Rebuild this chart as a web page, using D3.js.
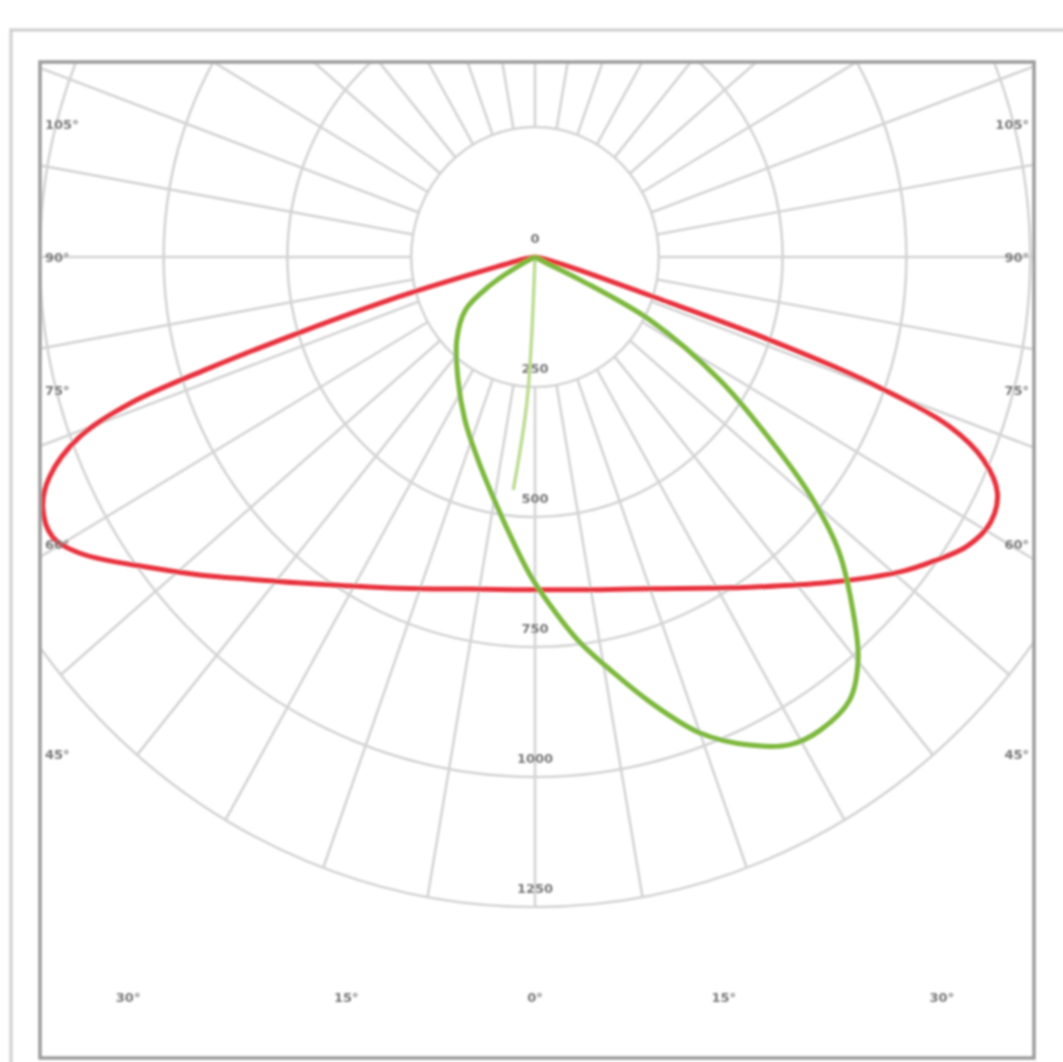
<!DOCTYPE html>
<html>
<head>
<meta charset="utf-8">
<script src="https://cdn.jsdelivr.net/npm/d3@7"></script>
<style>
  html, body { margin: 0; padding: 0; background: #ffffff; }
  svg { display: block; }
  text { font-family: "DejaVu Sans", sans-serif; }
</style>
</head>
<body>
<svg id="chart" width="1063" height="1062"></svg>
<script>
// ---- data ----
const ringValues = [250, 500, 750, 1000, 1250];
const ringLabels = ["0", "250", "500", "750", "1000", "1250"];
const ringLabelValues = [0, 250, 500, 750, 1000, 1250];
const spokeAngles = d3.range(-180, 180, 10);
const sideLabelAngles = [105, 90, 75, 60, 45];
const sideLabels = ["105°", "90°", "75°", "60°", "45°"];
const bottomLabelAngles = [-30, -15, 0, 15, 30];
const bottomLabels = ["30°", "15°", "0°", "15°", "30°"];

// red curve (C0-C180 plane), gamma in degrees, intensity
const redAngles = [-90, -80, -76.5, -74.5, -73, -72, -71, -69.4, -66.7, -64.2, -61.1, -58.2, -52.5, -47.9, -42.9, -37.1, -23.2, -11.6, 0,
                   11.6, 20, 34.3, 43.6, 50.6, 54, 57.5, 61, 64.1, 66.7, 68.7, 70.3, 71.4, 72.1, 75, 80, 90];
const redValues = [0, 20, 75, 280, 497, 690, 865, 982, 1067, 1104, 1113, 1081, 981, 912, 846, 786, 693, 652, 640,
                   653, 679, 769, 864, 954, 995, 1035, 1052, 1038, 986, 900, 719, 501, 287, 73, 15, 0];

// green curve (C90-C270 plane)
const greenAngles = [-90, -63, -59, -54, -44.6, -33.3, -24.3, -16.4, -10, -4.8, -0.9, 2.6, 6.7, 11.1, 15.2, 20, 24.8, 28.8, 32.3,
                     36.7, 40.1, 43.4, 47.4, 50.5, 53.5, 57.6, 62.4, 64.2, 63, 60];
const greenValues = [0, 34, 106, 174, 225, 283, 344, 407, 474, 546, 612, 670, 742, 813, 887, 974, 1034, 1070, 1077,
                     1063, 1013, 934, 832, 720, 591, 443, 262, 101, 22, 0];

// faint green line
const faintAngles = [0, -3.3, -5.6];
const faintValues = [0, 275, 450];

// ---- layout ----
const W = 1063, H = 1062;
const cx = 535, cy = 257;
const frame = { x: 40, y: 62, w: 994, h: 996 };
const rMax = 1250;
const xr = d3.scaleLinear().domain([0, rMax]).range([0, 619]);
const yr = d3.scaleLinear().domain([0, rMax]).range([0, 650]);
const rad = d => d * Math.PI / 180;
const px = (g, v) => cx + xr(v) * Math.sin(rad(g));
const py = (g, v) => cy + yr(v) * Math.cos(rad(g));

const svg = d3.select("#chart");
const defs = svg.append("defs");
defs.append("clipPath").attr("id", "clip")
  .append("rect").attr("x", frame.x).attr("y", frame.y).attr("width", frame.w).attr("height", frame.h);
defs.append("filter").attr("id", "soft").attr("x", "-5%").attr("y", "-5%").attr("width", "110%").attr("height", "110%")
  .append("feGaussianBlur").attr("stdDeviation", 0.8);

svg.append("rect").attr("width", W).attr("height", H).attr("fill", "#fff");

const root = svg.append("g").attr("filter", "url(#soft)");

// outer frame
root.append("rect").attr("x", 11).attr("y", 30).attr("width", 1070).attr("height", 1060)
  .attr("fill", "none").attr("stroke", "#cdcdcd").attr("stroke-width", 3);

const g = root.append("g").attr("clip-path", "url(#clip)");
const grid = g.append("g").attr("stroke", "#d4d4d4").attr("stroke-width", 2.6).attr("fill", "none");

grid.selectAll("ellipse").data(ringValues).join("ellipse")
  .attr("cx", cx).attr("cy", cy)
  .attr("rx", d => xr(d)).attr("ry", d => yr(d));

grid.selectAll("line").data(spokeAngles).join("line")
  .attr("x1", d => px(d, ringValues[0])).attr("y1", d => py(d, ringValues[0]))
  .attr("x2", d => px(d, rMax)).attr("y2", d => py(d, rMax));

// ring labels
g.append("g").selectAll("text").data(ringLabelValues).join("text")
  .attr("x", cx).attr("y", d => py(0, d) - 14)
  .attr("text-anchor", "middle").attr("font-size", 13).attr("font-weight", "bold").attr("fill", "#777")
  .text((d, i) => ringLabels[i]);

// curves
const line = d3.line().curve(d3.curveCatmullRom.alpha(0.5));
const pts = (A, V) => A.map((a, i) => [px(a, V[i]), py(a, V[i])]);

g.append("path").attr("d", line(pts(faintAngles, faintValues)))
  .attr("fill", "none").attr("stroke", "#bddb92").attr("stroke-width", 3.5);
g.append("path").attr("d", line(pts(redAngles, redValues)))
  .attr("fill", "none").attr("stroke", "#e8303c").attr("stroke-width", 5).attr("stroke-linejoin", "round");
g.append("path").attr("d", line(pts(greenAngles, greenValues)))
  .attr("fill", "none").attr("stroke", "#7db83c").attr("stroke-width", 5).attr("stroke-linejoin", "round");

// angle labels at sides
const sideY = a => { const t = xr.invert((cx - 62) / Math.sin(rad(a))); return cy + yr(t) * Math.cos(rad(a)); };
const lab = g.append("g").attr("font-size", 13).attr("font-weight", "bold").attr("fill", "#777");
lab.selectAll("text.l").data(sideLabelAngles).join("text").attr("class", "l")
  .attr("x", 45).attr("y", d => sideY(d) + 5).attr("text-anchor", "start")
  .text((d, i) => sideLabels[i]);
lab.selectAll("text.r").data(sideLabelAngles).join("text").attr("class", "r")
  .attr("x", 1029).attr("y", d => sideY(d) + 5).attr("text-anchor", "end")
  .text((d, i) => sideLabels[i]);
const bottomX = a => { if (a === 0) return cx; const t = yr.invert((997 - cy) / Math.cos(rad(a))); return cx + xr(t) * Math.sin(rad(a)); };
lab.selectAll("text.b").data(bottomLabelAngles).join("text").attr("class", "b")
  .attr("x", d => bottomX(d)).attr("y", 1002).attr("text-anchor", "middle")
  .text((d, i) => bottomLabels[i]);

// inner frame
root.append("rect").attr("x", frame.x).attr("y", frame.y).attr("width", frame.w).attr("height", frame.h)
  .attr("fill", "none").attr("stroke", "#9c9c9c").attr("stroke-width", 3.5);
</script>
</body>
</html>
